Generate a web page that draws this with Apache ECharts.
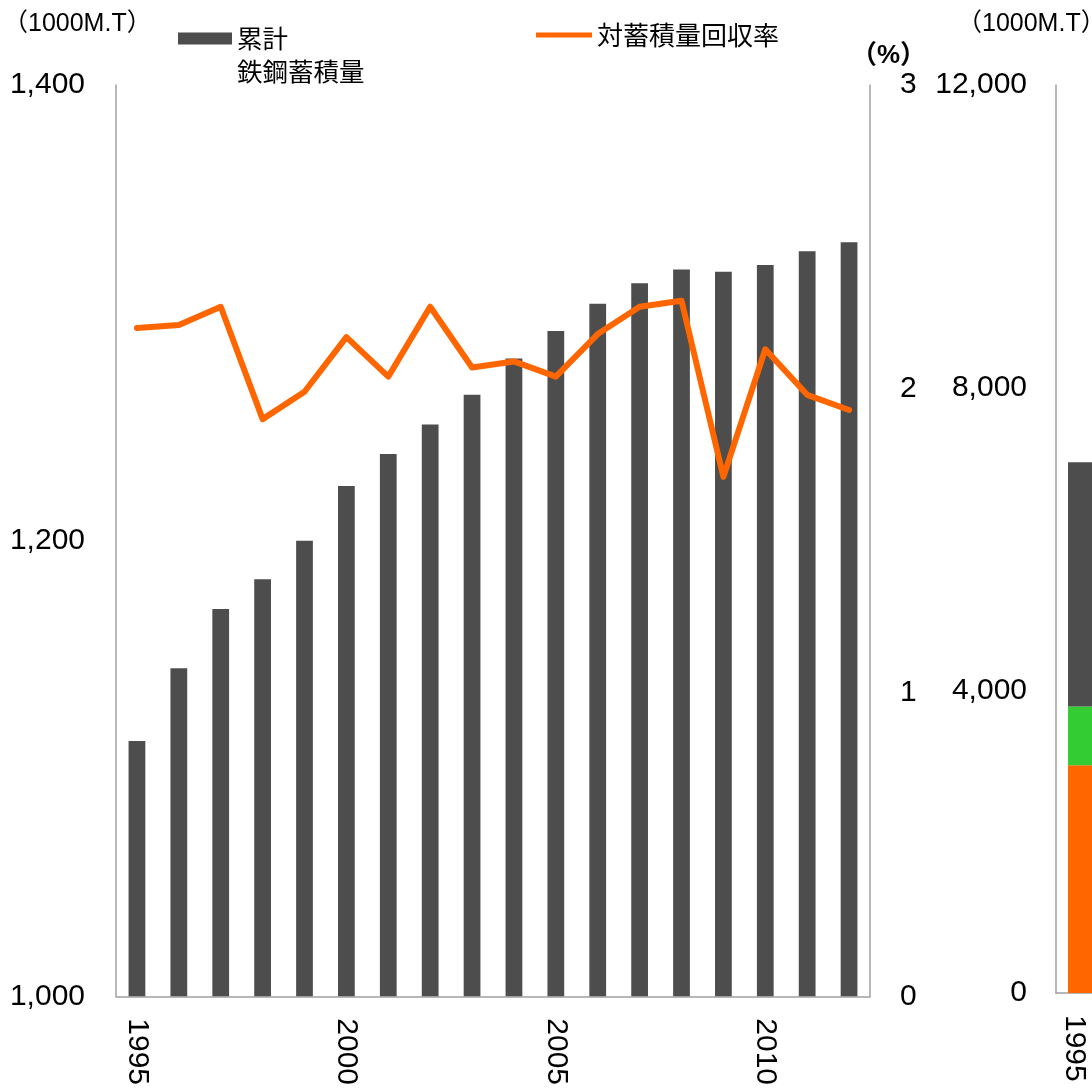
<!DOCTYPE html>
<html>
<head>
<meta charset="utf-8">
<script src="https://cdn.jsdelivr.net/npm/echarts@6/dist/echarts.min.js"></script>
<style>
html,body{margin:0;padding:0;background:#fff;}
#chart{width:1092px;height:1088px;}
</style>
</head>
<body>
<div id="chart"></div>
<script>
var years = ['1995','1996','1997','1998','1999','2000','2001','2002','2003','2004','2005','2006','2007','2008','2009','2010','2011','2012'];
var stockValues = [1112,1144,1170,1183,1200,1224,1238,1251,1264,1280,1292,1304,1313,1319,1318,1321,1327,1331];
var recoveryRate = [2.20,2.21,2.27,1.90,1.99,2.17,2.04,2.27,2.07,2.09,2.04,2.18,2.27,2.29,1.71,2.13,1.98,1.93];
var leftTicks = {min:1000, max:1400, interval:200};
var rightTicks = {min:0, max:3, interval:1};
var chart2Categories = ['1995'];
var chart2Orange = [3010];
var chart2Green = [775];
var chart2Gray = [3230];
var chart2Ticks = {min:0, max:12000, interval:4000};

var FONT = '"Liberation Sans", Arial, "Noto Sans CJK JP", sans-serif';
var CJK = '"Noto Sans CJK JP", "Liberation Sans", sans-serif';
var axisGray = '#a0a0a0';

var chart = echarts.init(document.getElementById('chart'));
chart.setOption({
  backgroundColor: '#fff',
  animation: false,
  textStyle: {fontFamily: FONT},
  title: [
    {text: '（1000M.T）', left: -2, top: 7, textStyle: {fontSize: 25, fontWeight: 'normal', color: '#000', fontFamily: FONT}},
    {text: '（1000M.T）', left: 952, top: 7, textStyle: {fontSize: 25, fontWeight: 'normal', color: '#000', fontFamily: FONT}},
    {text: '（%）', left: 846, top: 38, textStyle: {fontSize: 26, fontWeight: 'bold', color: '#000', fontFamily: FONT}}
  ],
  legend: [
    {
      data: ['累計鉄鋼蓄積量'],
      left: 178, top: -11, padding: 0,
      icon: 'rect', itemWidth: 54, itemHeight: 12,
      formatter: function(){ return ' \n累計\n鉄鋼蓄積量'; },
      textStyle: {fontSize: 25.5, color: '#000', fontFamily: CJK, lineHeight: 33}
    },
    {
      data: ['対蓄積量回収率'],
      left: 536, top: 22, padding: 0,
      icon: 'rect', itemWidth: 56, itemHeight: 5,
      textStyle: {fontSize: 26, color: '#000', fontFamily: CJK}
    }
  ],
  grid: [
    {left: 116, right: 222, top: 85, bottom: 91},
    {left: 1056, width: 36, top: 85, bottom: 95}
  ],
  xAxis: [
    {
      type: 'category', gridIndex: 0, data: years,
      axisLine: {lineStyle: {color: axisGray, width: 1.5}},
      axisTick: {show: false},
      axisLabel: {interval: 4, rotate: -90, margin: 22, fontSize: 30, color: '#000', fontFamily: FONT}
    },
    {
      type: 'category', gridIndex: 1, data: chart2Categories,
      axisLine: {lineStyle: {color: axisGray, width: 1.5}},
      axisTick: {show: false},
      axisLabel: {rotate: -90, margin: 22, fontSize: 30, color: '#000', fontFamily: FONT}
    }
  ],
  yAxis: [
    {
      type: 'value', gridIndex: 0, min: leftTicks.min, max: leftTicks.max, interval: leftTicks.interval,
      axisLine: {show: true, lineStyle: {color: axisGray, width: 1.5}},
      axisTick: {show: false}, splitLine: {show: false},
      axisLabel: {margin: 31, fontSize: 30, color: '#000', fontFamily: FONT,
        formatter: function(v){ return v.toLocaleString('en-US'); }}
    },
    {
      type: 'value', gridIndex: 0, position: 'right', min: rightTicks.min, max: rightTicks.max, interval: rightTicks.interval,
      axisLine: {show: true, lineStyle: {color: axisGray, width: 1.5}},
      axisTick: {show: false}, splitLine: {show: false},
      axisLabel: {margin: 30, fontSize: 30, color: '#000', fontFamily: FONT}
    },
    {
      type: 'value', gridIndex: 1, min: chart2Ticks.min, max: chart2Ticks.max, interval: chart2Ticks.interval,
      axisLine: {show: true, lineStyle: {color: axisGray, width: 1.5}},
      axisTick: {show: false}, splitLine: {show: false},
      axisLabel: {margin: 29, fontSize: 30, color: '#000', fontFamily: FONT,
        formatter: function(v){ return v.toLocaleString('en-US'); }}
    }
  ],
  series: [
    {
      name: '累計鉄鋼蓄積量', type: 'bar', xAxisIndex: 0, yAxisIndex: 0,
      data: stockValues, barWidth: '40%',
      itemStyle: {color: '#4d4d4d'}
    },
    {
      name: '対蓄積量回収率', type: 'line', xAxisIndex: 0, yAxisIndex: 1,
      data: recoveryRate, showSymbol: false, symbol: 'none',
      lineStyle: {color: '#ff6600', width: 6, join: 'round', cap: 'round'},
      itemStyle: {color: '#ff6600'}
    },
    {
      name: 'spacer', type: 'bar', xAxisIndex: 1, yAxisIndex: 2, stack: 'h',
      data: [0], barWidth: 12, barGap: '0%', itemStyle: {color: 'rgba(0,0,0,0)'}, silent: true
    },
    {
      name: 's1', type: 'bar', xAxisIndex: 1, yAxisIndex: 2, stack: 'b',
      data: chart2Orange, barWidth: 24, barGap: '0%', itemStyle: {color: '#ff6600'}
    },
    {
      name: 's2', type: 'bar', xAxisIndex: 1, yAxisIndex: 2, stack: 'b',
      data: chart2Green, barWidth: 24, barGap: '0%', itemStyle: {color: '#33cc33'}
    },
    {
      name: 's3', type: 'bar', xAxisIndex: 1, yAxisIndex: 2, stack: 'b',
      data: chart2Gray, barWidth: 24, barGap: '0%', itemStyle: {color: '#4d4d4d'}
    }
  ]
});
</script>
</body>
</html>
